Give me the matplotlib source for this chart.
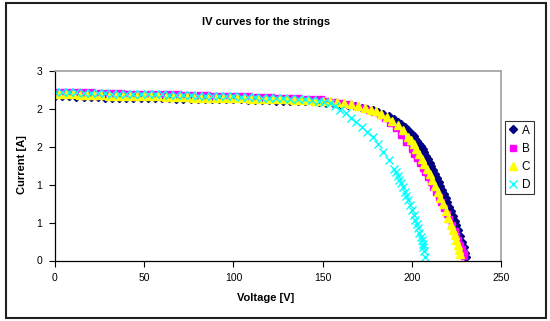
import matplotlib
matplotlib.use('Agg')
import matplotlib.pyplot as plt
from matplotlib.patches import Rectangle

plt.rcParams['font.family'] = ['Liberation Sans', 'DejaVu Sans']

# string A
a_v = [0, 4, 8, 12, 16, 20, 24, 28, 32, 36, 40, 44, 48, 52, 56, 60, 64, 68, 72,
       76, 80, 84, 88, 92, 96, 100, 104, 108, 112, 116, 120, 124, 128, 132, 136,
       140, 144, 148,
       152, 156, 160, 164, 168, 172, 175, 178, 181, 184, 187, 190, 192, 194, 196,
       198, 200, 201, 202, 203, 204, 205, 206, 207, 208, 209, 210, 211, 212, 213,
       214, 215, 216, 217, 218, 219, 220, 221, 222, 223, 224, 225, 226, 227, 228,
       229, 230, 230.5]
a_i = [2.60, 2.60, 2.60, 2.59, 2.59, 2.59, 2.59, 2.58, 2.58, 2.58, 2.58, 2.58,
       2.57, 2.57, 2.57, 2.57, 2.57, 2.56, 2.56, 2.56, 2.56, 2.56, 2.55, 2.55,
       2.55, 2.55, 2.55, 2.54, 2.54, 2.54, 2.54, 2.53, 2.53, 2.53, 2.52, 2.52,
       2.52, 2.51,
       2.50, 2.49, 2.48, 2.46, 2.44, 2.42, 2.40, 2.38, 2.35, 2.32, 2.28, 2.24,
       2.20, 2.16, 2.11, 2.06, 2.00, 1.97, 1.93, 1.89, 1.85, 1.81, 1.76, 1.71,
       1.66, 1.61, 1.55, 1.49, 1.43, 1.37, 1.31, 1.25, 1.18, 1.12, 1.05, 0.99,
       0.92, 0.85, 0.78, 0.71, 0.63, 0.56, 0.48, 0.39, 0.30, 0.21, 0.12, 0.05]

# string B
b_v = [1, 5, 9, 13, 17, 21, 25, 29, 33, 37, 41, 45, 49, 53, 57, 61, 65, 69, 73,
       77, 81, 85, 89, 93, 97, 101, 105, 109, 113, 117, 121, 125, 129, 133, 137,
       141, 145, 149,
       153, 157, 161, 165, 169, 173, 176, 179, 182, 185, 188, 191, 194, 197, 200,
       201.5, 203, 204.5, 206, 207.5, 209, 210.5, 212, 213.5, 215, 216.5, 218,
       219.5, 221, 222.5, 224, 225, 226, 227, 228, 229, 229.5]
b_i = [2.67, 2.67, 2.66, 2.66, 2.66, 2.66, 2.65, 2.65, 2.65, 2.65, 2.64, 2.64,
       2.64, 2.64, 2.63, 2.63, 2.63, 2.63, 2.62, 2.62, 2.62, 2.62, 2.61, 2.61,
       2.61, 2.60, 2.60, 2.60, 2.59, 2.59, 2.59, 2.58, 2.58, 2.57, 2.57, 2.56,
       2.56, 2.55,
       2.53, 2.51, 2.49, 2.47, 2.44, 2.41, 2.38, 2.35, 2.31, 2.25, 2.18, 2.09,
       1.99, 1.88, 1.76, 1.69, 1.62, 1.55, 1.47, 1.40, 1.32, 1.25, 1.17, 1.09,
       1.00, 0.92, 0.83, 0.74, 0.65, 0.56, 0.46, 0.39, 0.32, 0.25, 0.18, 0.12,
       0.07]

# string C
c_v = [2, 6, 10, 14, 18, 22, 26, 30, 34, 38, 42, 46, 50, 54, 58, 62, 66, 70, 74,
       78, 82, 86, 90, 94, 98, 102, 106, 110, 114, 118, 122, 126, 130, 134, 138,
       142, 146, 150,
       154, 158, 162, 166, 170, 174, 177, 180, 183, 186, 189, 192, 195, 198,
       199.5, 201, 202.5, 204, 205.5, 207, 208.5, 210, 211.5, 213, 214.5, 216,
       217.5, 219, 220.5, 222, 223, 224, 225, 226, 226.5, 227]
c_i = [2.63, 2.63, 2.63, 2.62, 2.62, 2.62, 2.62, 2.61, 2.61, 2.61, 2.61, 2.60,
       2.60, 2.60, 2.60, 2.59, 2.59, 2.59, 2.59, 2.58, 2.58, 2.58, 2.58, 2.57,
       2.57, 2.57, 2.57, 2.56, 2.56, 2.56, 2.55, 2.55, 2.55, 2.54, 2.54, 2.54,
       2.53, 2.53,
       2.52, 2.51, 2.49, 2.47, 2.45, 2.42, 2.39, 2.36, 2.32, 2.27, 2.21, 2.14,
       2.06, 1.96, 1.90, 1.84, 1.77, 1.69, 1.61, 1.53, 1.45, 1.37, 1.28, 1.18,
       1.09, 0.99, 0.89, 0.79, 0.68, 0.56, 0.48, 0.40, 0.32, 0.24, 0.17, 0.10]

# string D
d_v = [0, 4, 8, 12, 16, 20, 24, 28, 32, 36, 40, 44, 48, 52, 56, 60, 64, 68, 72,
       76, 80, 84, 88, 92, 96, 100, 104, 108, 112, 116, 120, 124, 128, 132, 136,
       140,
       144, 148, 151, 154, 157, 160, 163, 166, 169, 172, 175, 178, 181, 184, 187,
       190, 191, 192, 193, 194, 195, 196, 197, 198, 199, 200, 201, 202, 202.8,
       203.5, 204.3, 205, 205.5, 206, 206.5, 207, 207.5]
d_i = [2.66, 2.66, 2.66, 2.66, 2.65, 2.65, 2.65, 2.65, 2.64, 2.64, 2.64, 2.64,
       2.63, 2.63, 2.63, 2.63, 2.62, 2.62, 2.62, 2.62, 2.61, 2.61, 2.61, 2.60,
       2.60, 2.60, 2.59, 2.59, 2.59, 2.58, 2.58, 2.57, 2.57, 2.56, 2.56, 2.55,
       2.54, 2.53, 2.51, 2.49, 2.44, 2.39, 2.33, 2.26, 2.19, 2.12, 2.04, 1.95,
       1.84, 1.72, 1.59, 1.45, 1.40, 1.34, 1.28, 1.22, 1.16, 1.09, 1.02, 0.95,
       0.88, 0.80, 0.72, 0.64, 0.58, 0.51, 0.44, 0.37, 0.32, 0.26, 0.21, 0.15,
       0.06]

x_ticks = [0, 50, 100, 150, 200, 250]
y_ticks = [0, 0.6, 1.2, 1.8, 2.4, 3.0]
y_tick_labels = ['0', '1', '1', '2', '2', '3']

fig = plt.figure(figsize=(5.5, 3.21), dpi=100)
ax = fig.add_axes([55 / 550, 60.5 / 321, 446 / 550, 189.5 / 321])

ax.plot(a_v, a_i, 'D', color='#000080', ms=4.5, mec='#000080', label='A')
ax.plot(b_v, b_i, 's', color='#ff00ff', ms=4.5, mec='#ff00ff', label='B')
ax.plot(c_v, c_i, '^', color='#ffff00', ms=5.5, mec='#ffff00', label='C')
ax.plot(d_v, d_i, 'x', color='#00ffff', ms=5.5, mew=1, label='D')

ax.set_xlim(0, 250)
ax.set_ylim(0, 3)
ax.set_xticks(x_ticks)
ax.set_yticks(y_ticks)
ax.set_yticklabels(y_tick_labels)
ax.tick_params(direction='out', length=4, width=0.8, labelsize=7.5, pad=5)
for s in ['left', 'bottom']:
    ax.spines[s].set_color('black')
    ax.spines[s].set_linewidth(0.9)
for s in ['top', 'right']:
    ax.spines[s].set_color('#a0a0a0')
    ax.spines[s].set_linewidth(1.2)

fig.text(266 / 550, 1 - 22 / 321, 'IV curves for the strings', ha='center',
         va='center', fontsize=8, fontweight='bold')
fig.text(266 / 550, 1 - 298 / 321, 'Voltage [V]', ha='center', va='center',
         fontsize=8, fontweight='bold')
fig.text(22 / 550, 1 - 165 / 321, 'Current [A]', ha='center', va='center',
         rotation=90, fontsize=8, fontweight='bold')

leg = ax.legend(loc='upper left', bbox_to_anchor=(505 / 550, 1 - 121 / 321),
                bbox_transform=fig.transFigure, fontsize=8.5, frameon=True,
                fancybox=False, edgecolor='black', handlelength=0.8,
                handletextpad=0.3, borderpad=0.3, labelspacing=0.52,
                borderaxespad=0)
leg.get_frame().set_linewidth(0.8)

fig.patches.append(Rectangle((6 / 550, 3 / 321), 540 / 550, 315 / 321,
                             transform=fig.transFigure, fill=False,
                             lw=1.5, ec='#202020'))

fig.savefig('out.png', dpi=100)
